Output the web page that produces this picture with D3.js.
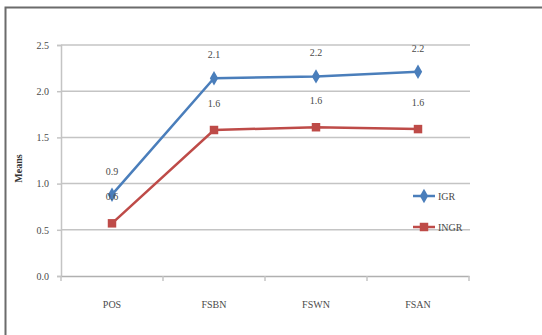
<!DOCTYPE html>
<html>
<head>
<meta charset="utf-8">
<script src="https://cdn.jsdelivr.net/npm/d3@7"></script>
<style>
  html, body { margin: 0; padding: 0; background: #fff; }
  svg { display: block; font-family: "Liberation Serif", "DejaVu Serif", serif; }
</style>
</head>
<body>
<svg id="chart" width="542" height="335"></svg>
<script>
// Category labels along the x axis
const categories = ["POS", "FSBN", "FSWN", "FSAN"];
// Series names
const seriesNames = ["IGR", "INGR"];
// Mean values per series
const igrValues = [0.88, 2.14, 2.16, 2.21];
const ingrValues = [0.57, 1.58, 1.61, 1.59];
// Y axis ticks
const yTicks = [0.0, 0.5, 1.0, 1.5, 2.0, 2.5];

const colors = { IGR: "#4a7ebb", INGR: "#be4b48" };

const svg = d3.select("#chart");

// outer frame
svg.append("rect")
  .attr("x", 5.5).attr("y", 7.5)
  .attr("width", 600).attr("height", 400)
  .attr("fill", "none").attr("stroke", "#6b6b6b").attr("stroke-width", 2);

const plot = { left: 61, right: 469, top: 45, bottom: 276 };

const x = d3.scaleBand().domain(categories).range([plot.left, plot.right]);
const y = d3.scaleLinear().domain([0, 2.5]).range([plot.bottom, plot.top]);

// horizontal gridlines
svg.append("g").selectAll("line").data(yTicks.filter(t => t > 0)).join("line")
  .attr("x1", plot.left).attr("x2", plot.right + 1)
  .attr("y1", d => y(d)).attr("y2", d => y(d))
  .attr("stroke", "#c4c4c4").attr("stroke-width", 1.5);

// y axis
const yAxis = svg.append("g")
  .attr("transform", `translate(${plot.left},0)`)
  .call(d3.axisLeft(y).tickValues(yTicks).tickFormat(d3.format(".1f")).tickSize(4).tickPadding(8));
yAxis.select(".domain").attr("stroke", "#c4c4c4").attr("stroke-width", 1.5);
yAxis.selectAll(".tick line").attr("stroke", "#c4c4c4").attr("stroke-width", 1.5);
yAxis.selectAll(".tick text").attr("font-size", 10).attr("fill", "#4a4a4a")
  .attr("font-family", "Liberation Serif, serif");

// x axis
const xAxis = svg.append("g")
  .attr("transform", `translate(0,${plot.bottom})`)
  .call(d3.axisBottom(x).tickSize(0).tickPadding(25));
xAxis.select(".domain").attr("stroke", "#b0b0b0").attr("stroke-width", 1.5);
xAxis.selectAll(".tick text").attr("font-size", 10).attr("fill", "#4a4a4a")
  .attr("font-family", "Liberation Serif, serif");
// category separator ticks
svg.append("g").selectAll("line").data(categories.concat(["end"])).join("line")
  .attr("x1", (d, i) => plot.left + i * x.bandwidth())
  .attr("x2", (d, i) => plot.left + i * x.bandwidth())
  .attr("y1", plot.bottom).attr("y2", plot.bottom + 5)
  .attr("stroke", "#c4c4c4").attr("stroke-width", 1.5);

// y axis title
svg.append("text")
  .attr("transform", `translate(22,${(plot.top + plot.bottom) / 2 + 8}) rotate(-90)`)
  .attr("text-anchor", "middle")
  .attr("font-size", 10).attr("font-weight", "bold").attr("fill", "#333")
  .text("Means");

const cx = d => x(d) + x.bandwidth() / 2;
const line = d3.line().x(d => cx(d.cat)).y(d => y(d.v));

const series = [
  { name: "IGR", values: igrValues, marker: "diamond", labelDy: -20 },
  { name: "INGR", values: ingrValues, marker: "square", labelDy: -23 }
];

const markerPath = m => m === "diamond"
  ? d3.symbol(d3.symbolDiamond, 60)()
  : d3.symbol(d3.symbolSquare, 72)();

series.forEach(s => {
  const pts = categories.map((c, i) => ({ cat: c, v: s.values[i] }));
  const g = svg.append("g");
  g.append("path").datum(pts)
    .attr("d", line)
    .attr("fill", "none").attr("stroke", colors[s.name]).attr("stroke-width", 2.5);
  g.selectAll("path.m").data(pts).join("path")
    .attr("class", "m")
    .attr("transform", d => `translate(${cx(d.cat)},${y(d.v)})`)
    .attr("d", markerPath(s.marker))
    .attr("fill", colors[s.name]);
  g.selectAll("text").data(pts).join("text")
    .attr("x", d => cx(d.cat))
    .attr("y", d => y(d.v) + s.labelDy)
    .attr("text-anchor", "middle")
    .attr("font-size", 10).attr("fill", "#4a4a4a")
    .text(d => d3.format(".1f")(d.v));
});

// legend
const legend = svg.append("g");
series.forEach((s, i) => {
  const ly = 196 + i * 31;
  legend.append("line")
    .attr("x1", 413).attr("x2", 435).attr("y1", ly).attr("y2", ly)
    .attr("stroke", colors[s.name]).attr("stroke-width", 2.5);
  legend.append("path")
    .attr("transform", `translate(424,${ly})`)
    .attr("d", markerPath(s.marker))
    .attr("fill", colors[s.name]);
  legend.append("text")
    .attr("x", 438).attr("y", ly + 3.5)
    .attr("font-size", 10).attr("fill", "#4a4a4a")
    .text(s.name);
});
</script>
</body>
</html>
